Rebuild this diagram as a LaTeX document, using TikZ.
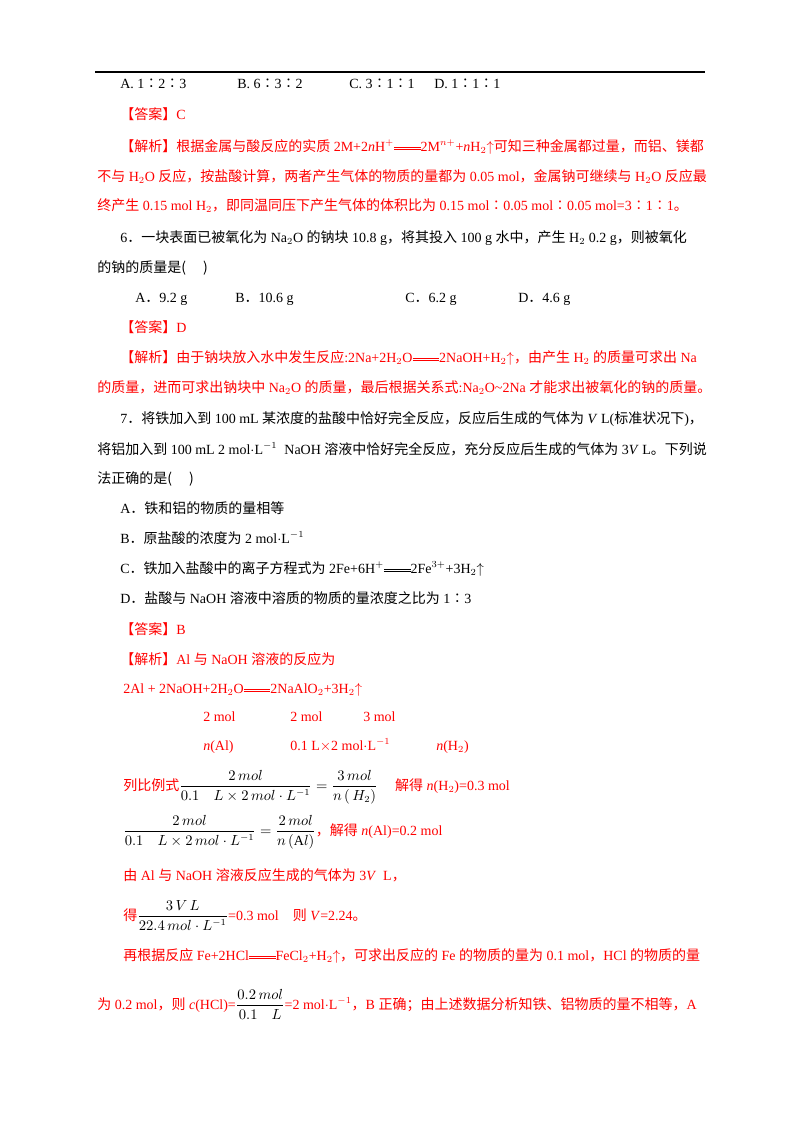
\documentclass[tikz,border=0pt]{standalone}
\usepackage{amsmath}
\usepackage{fontspec}
\setmainfont{Liberation Serif}
\newfontfamily\cjk{Noto Sans CJK SC}
\newcommand\zh[1]{{\cjk #1}}
\newcommand\eqq{\rlap{\raisebox{0.6ex}{\rule{1.9em}{0.4pt}}}\raisebox{0.3ex}{\rule{1.9em}{0.4pt}}}
\newcommand\up{$\uparrow$}
\begin{document}
\begin{tikzpicture}[x=0.75pt,y=-0.75pt,
  t/.style={anchor=base west,inner sep=0pt,font=\fontsize{10.5}{12}\selectfont},
  r/.style={t,text=red}]
\useasboundingbox (0,0) rectangle (800,1132);
\coordinate (l1) at (95,72); \coordinate (l2) at (705,72);
\draw[line width=0.8pt] (l1) -- (l2);
\node[t] (a1) at (120,88) {A.\ 1\zh{∶}2\zh{∶}3};
\node[t] (a2) at (237,88) {B.\ 6\zh{∶}3\zh{∶}2};
\node[t] (a3) at (349,88) {C.\ 3\zh{∶}1\zh{∶}1};
\node[t] (a4) at (434,88) {D.\ 1\zh{∶}1\zh{∶}1};
\node[r] (b1) at (120,119) {\zh{【答案】}C};
\node[r] (b2) at (120,151) {\zh{【解析】根据金属与酸反应的实质} 2M+2\textit{n}H$^{+}$\eqq 2M$^{n+}$+\textit{n}H$_2$\up\zh{可知三种金属都过量，而铝、镁都}};
\node[r] (b3) at (97,181) {\zh{不与} H$_2$O \zh{反应，按盐酸计算，两者产生气体的物质的量都为} 0.05 mol\zh{，金属钠可继续与} H$_2$O \zh{反应最}};
\node[r] (b4) at (97,210) {\zh{终产生} 0.15 mol H$_2$\zh{，即同温同压下产生气体的体积比为} 0.15 mol\zh{∶}0.05 mol\zh{∶}0.05 mol=3\zh{∶}1\zh{∶}1\zh{。}};
\node[t] (c1) at (120,242) {6\zh{．一块表面已被氧化为} Na$_2$O \zh{的钠块} 10.8 g\zh{，将其投入} 100 g \zh{水中，产生} H$_2$ 0.2 g\zh{，则被氧化}};
\node[t] (c2) at (97,272) {\zh{的钠的质量是(\quad\ )}};
\node[t] (c3) at (135,302) {A\zh{．}9.2 g};
\node[t] (c4) at (235,302) {B\zh{．}10.6 g};
\node[t] (c5) at (405,302) {C\zh{．}6.2 g};
\node[t] (c6) at (518,302) {D\zh{．}4.6 g};
\node[r] (d1) at (120,332) {\zh{【答案】}D};
\node[r] (d2) at (120,362) {\zh{【解析】由于钠块放入水中发生反应}:2Na+2H$_2$O\eqq 2NaOH+H$_2$\up\zh{，由产生} H$_2$ \zh{的质量可求出} Na};
\node[r] (d3) at (97,392) {\zh{的质量，进而可求出钠块中} Na$_2$O \zh{的质量，最后根据关系式}:Na$_2$O\textasciitilde 2Na \zh{才能求出被氧化的钠的质量。}};
\node[t] (e1) at (120,423) {7\zh{．将铁加入到} 100 mL \zh{某浓度的盐酸中恰好完全反应，反应后生成的气体为} \textit{V} L(\zh{标准状况下})\zh{，}};
\node[t] (e2) at (97,454) {\zh{将铝加入到} 100 mL 2 mol$\cdot$L$^{-1}$\ \ NaOH \zh{溶液中恰好完全反应，充分反应后生成的气体为} 3\textit{V} L\zh{。下列说}};
\node[t] (e3) at (97,483) {\zh{法正确的是(\quad\ )}};
\node[t] (f1) at (120,513) {A\zh{．铁和铝的物质的量相等}};
\node[t] (f2) at (120,543) {B\zh{．原盐酸的浓度为} 2 mol$\cdot$L$^{-1}$};
\node[t] (f3) at (120,573) {C\zh{．铁加入盐酸中的离子方程式为} 2Fe+6H$^{+}$\eqq 2Fe$^{3+}$+3H$_2$\up};
\node[t] (f4) at (120,603) {D\zh{．盐酸与} NaOH \zh{溶液中溶质的物质的量浓度之比为} 1\zh{∶}3};
\node[r] (g1) at (120,634) {\zh{【答案】}B};
\node[r] (g2) at (120,664) {\zh{【解析】}Al \zh{与} NaOH \zh{溶液的反应为}};
\node[r] (g3) at (123,693) {2Al + 2NaOH+2H$_2$O\eqq 2NaAlO$_2$+3H$_2$\up};
\node[r] (g4) at (203,721) {2 mol};
\node[r] (g5) at (290,721) {2 mol};
\node[r] (g6) at (363,721) {3 mol};
\node[r] (g7) at (203,750) {\textit{n}(Al)};
\node[r] (g8) at (290,750) {0.1 L$\times$2 mol$\cdot$L$^{-1}$};
\node[r] (g9) at (436,750) {\textit{n}(H$_2$)};
\node[r] (h1) at (123,790) {\zh{列比例式}\textcolor{black}{$\dfrac{2\,mol}{0.1\quad L\times2\,mol\cdot L^{-1}}=\dfrac{3\,mol}{n\,(\,H_2)}$}\quad\ \zh{解得} \textit{n}(H$_2$)=0.3 mol};
\node[r] (h2) at (123,835) {\textcolor{black}{$\dfrac{2\,mol}{0.1\quad L\times2\,mol\cdot L^{-1}}=\dfrac{2\,mol}{n\,(\mathrm{A}l)}$}\zh{，解得} \textit{n}(Al)=0.2 mol};
\node[r] (h3) at (123,880) {\zh{由} Al \zh{与} NaOH \zh{溶液反应生成的气体为} 3\textit{V}\ \ L\zh{，}};
\node[r] (h4) at (123,920) {\zh{得}\textcolor{black}{$\dfrac{3\,V\,L}{22.4\,mol\cdot L^{-1}}$}=0.3 mol\quad \zh{则} \textit{V}=2.24\zh{。}};
\node[r] (h5) at (123,960) {\zh{再根据反应} Fe+2HCl\eqq FeCl$_2$+H$_2$\up\zh{，可求出反应的} Fe \zh{的物质的量为} 0.1 mol\zh{，}HCl \zh{的物质的量}};
\node[r] (h6) at (97,1009) {\zh{为} 0.2 mol\zh{，则} \textit{c}(HCl)=\textcolor{black}{$\dfrac{0.2\,mol}{0.1\quad L}$}=2 mol$\cdot$L$^{-1}$\zh{，}B \zh{正确；由上述数据分析知铁、铝物质的量不相等，}A};
\end{tikzpicture}
\end{document}
